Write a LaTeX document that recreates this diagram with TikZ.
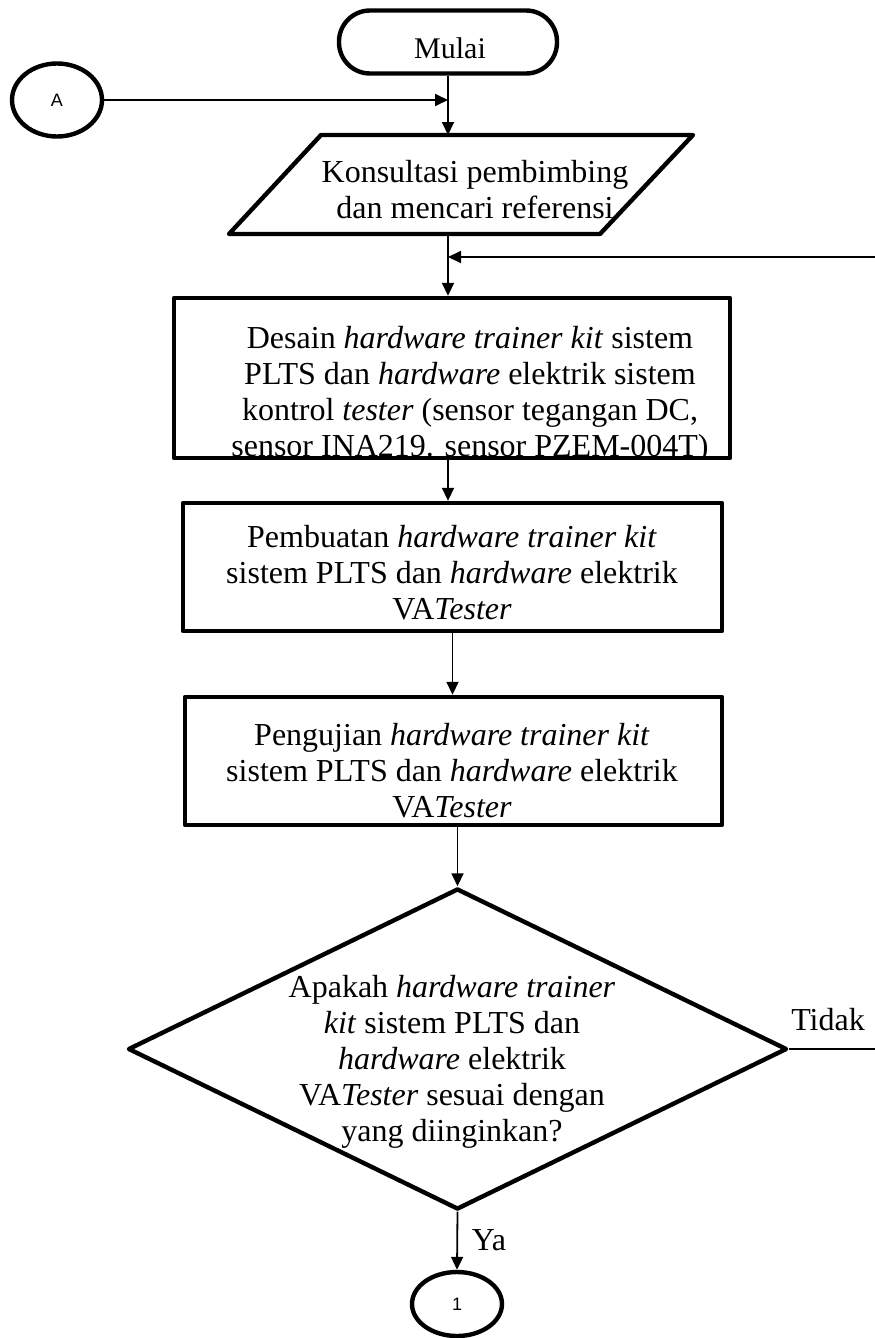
\documentclass[tikz,border=0pt]{standalone}
\usepackage{fontspec}
\setmainfont{Liberation Serif}
\newfontfamily\sansf{Liberation Sans}
\usetikzlibrary{shapes.geometric,arrows.meta}
\begin{document}
\begin{tikzpicture}[x=1pt,y=-1pt,
  shapeline/.style={draw, line width=4.4pt, line join=round},
  conn/.style={line width=1.8pt},
  arr/.style={conn, -{Triangle[length=13pt,width=12pt]}},
  txt/.style={font=\fontsize{32}{36}\selectfont, align=center, inner sep=0pt},
  lbl/.style={font=\fontsize{32}{36}\selectfont, inner sep=0pt},
  conc/.style={shapeline, ellipse, inner sep=0pt, font=\sansf\fontsize{18}{20}\selectfont},
  procbox/.style={shapeline, rectangle, inner sep=0pt}
]
\useasboundingbox (0,0) rectangle (875,1338);

% start terminal
\node[shapeline, rectangle, rounded corners=31pt, minimum width=218pt, minimum height=63pt, inner sep=0pt] (start) at (448,42) {};
\node[font=\fontsize{30}{34}\selectfont, inner sep=0pt] (startt) at (450,48) {Mulai};

% connector A
\node[conc, minimum width=90pt, minimum height=73pt] (A) at (57,100) {A};
\coordinate (ja) at (448,100);
\draw[arr] (A.east) -- (ja);

% parallelogram
\coordinate (ptop) at (448,135);
\coordinate (pbot) at (448,234);
\draw[shapeline] (321,135) -- (693,135) -- (600,234) -- (229,234) -- cycle;
\node[txt] (kons) at (475,190) {Konsultasi pembimbing\\dan mencari referensi};
\draw[arr] (start.south) -- (ptop);

% rect 1 (text clipped by the box, as in the source)
\begin{scope}
  \clip (174,298) rectangle (730,458);
  \node[txt] (r1t) at (470,395) {Desain \textit{hardware trainer kit} sistem\\PLTS dan \textit{hardware} elektrik sistem\\kontrol \textit{tester} (sensor tegangan DC,\\sensor INA219. sensor PZEM-004T)};
\end{scope}
\node[procbox, minimum width=556pt, minimum height=160pt] (r1) at (452,378) {};
\draw[arr] (pbot) -- (pbot |- r1.north);

% feedback stub
\coordinate (fb) at (875,257);
\coordinate (jb) at (448,257);
\draw[arr] (fb) -- (jb);

% rect 2
\node[procbox, minimum width=539pt, minimum height=128pt] (r2) at (452.5,567) {};
\node[txt] (r2t) at (452,573) {Pembuatan \textit{hardware trainer kit}\\sistem PLTS dan \textit{hardware} elektrik\\VA\textit{Tester}};
\draw[arr] (r1.south -| pbot) -- (pbot |- r2.north);

% rect 3
\node[procbox, minimum width=537pt, minimum height=128pt] (r3) at (453.5,761) {};
\node[txt] (r3t) at (452,771) {Pengujian \textit{hardware trainer kit}\\sistem PLTS dan \textit{hardware} elektrik\\VA\textit{Tester}};
\draw[arr] (r2.south) -- (r2.south |- r3.north);

% decision
\node[shapeline, diamond, minimum width=659pt, minimum height=321pt, inner sep=0pt] (dec) at (457.5,1049) {};
\node[txt] (dect) at (452,1062) {Apakah \textit{hardware trainer}\\\textit{kit} sistem PLTS dan\\\textit{hardware} elektrik\\VA\textit{Tester} sesuai dengan\\yang diinginkan?};
\draw[arr] (dec.north |- r3.south) -- (dec.north);

% Tidak
\coordinate (tend) at (875,1049);
\draw[conn] (dec.east) -- (tend);
\node[lbl] (tidak) at (828,1020) {Tidak};

% Ya
\node[conc, minimum width=90pt, minimum height=64pt] (c1) at (457,1304) {1};
\draw[arr] (dec.south) -- (c1.north);
\node[lbl] (ya) at (489,1240) {Ya};
\end{tikzpicture}
\end{document}
